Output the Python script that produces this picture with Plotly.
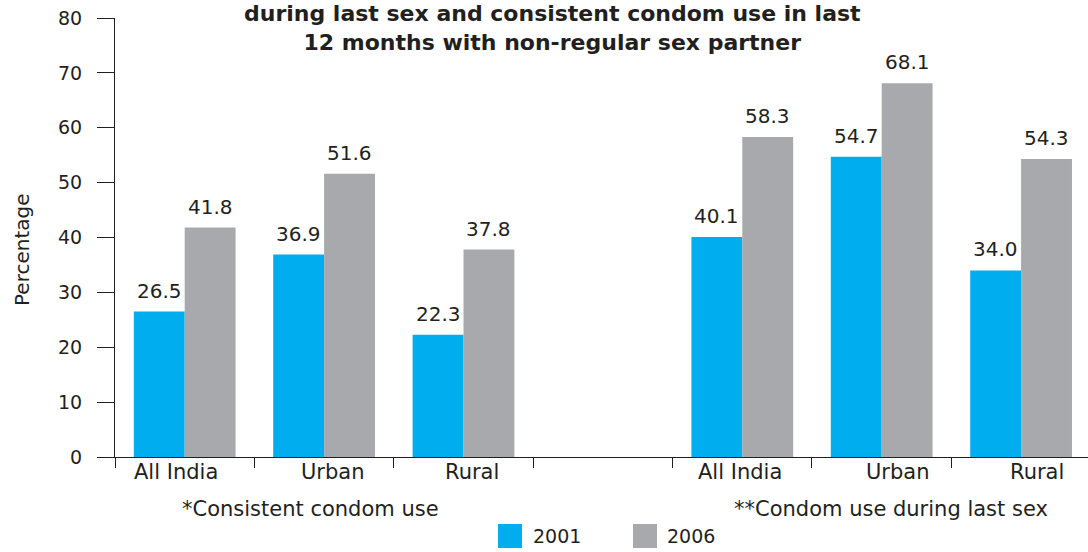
import plotly.graph_objects as go

# data
categories = ["All India", "Urban", "Rural"]
group_labels = ["*Consistent condom use", "**Condom use during last sex"]
years = ["2001", "2006"]
consistent_2001 = [26.5, 36.9, 22.3]
consistent_2006 = [41.8, 51.6, 37.8]
last_sex_2001 = [40.1, 54.7, 34.0]
last_sex_2006 = [58.3, 68.1, 54.3]
y_ticks = [0, 10, 20, 30, 40, 50, 60, 70, 80]
title_lines = ["during last sex and consistent condom use in last",
               "12 months with non-regular sex partner"]

W, H = 1088, 552
L, R, T, B = 115, 0, 18, 95
plot_w = W - L - R
plot_h = H - T - B

BLUE = "#00aeef"
GREY = "#a7a9ac"
INK = "#231f20"
FONT = "DejaVu Sans"


def px(x):
    # pixel column -> paper x
    return (x - L) / plot_w


def py(y):
    # pixel row -> paper y
    return (H - B - y) / plot_h


# first group sits in slots 0..2, slot 3 is left empty, second group in 4..6
pos1 = list(range(len(categories)))
pos2 = [p + len(categories) + 1 for p in pos1]
xpos = pos1 + pos2

series = {
    "2001": consistent_2001 + last_sex_2001,
    "2006": consistent_2006 + last_sex_2006,
}
colors = {"2001": BLUE, "2006": GREY}

fig = go.Figure()
for yr in years:
    fig.add_trace(go.Bar(x=xpos, y=series[yr], name=yr,
                         marker=dict(color=colors[yr], line=dict(width=0)),
                         showlegend=False, hoverinfo="x+y+name"))

bargap = 0.27
half = (1 - bargap) / 4  # offset of each bar centre inside its pair

annotations = []

# title (annotation: multi-line layout titles creep above the page)
annotations.append(dict(x=px(552), y=py(-1), xref="paper", yref="paper", text="<br>".join(title_lines),
                        showarrow=False, xanchor="center", yanchor="top",
                        font=dict(size=22, color=INK, weight="bold")))

# value labels above the bars
for i, yr in enumerate(years):
    shift = -half if i == 0 else half
    for x, v in zip(xpos, series[yr]):
        annotations.append(dict(x=x + shift, y=v, xref="x", yref="y", text=f"{v:.1f}",
                                showarrow=False, yanchor="middle", yshift=21,
                                font=dict(size=20, color=INK)))

# category labels (slightly off-centre in the original)
label_nudge = [-9, 9, 8, -2, 16, 16]
for x, name, dx in zip(xpos, categories + categories, label_nudge):
    annotations.append(dict(x=x, y=py(472), xref="x", yref="paper", text=name,
                            showarrow=False, yanchor="middle", xshift=dx,
                            font=dict(size=21, color=INK)))

# group captions
for text, cx in zip(group_labels, [310, 891]):
    annotations.append(dict(x=px(cx), y=py(509), xref="paper", yref="paper", text=text,
                            showarrow=False, xanchor="center", yanchor="middle",
                            font=dict(size=21, color=INK)))

# y title
annotations.append(dict(x=px(22), y=py(250), xref="paper", yref="paper", text="Percentage",
                        textangle=-90, showarrow=False, xanchor="center", yanchor="middle",
                        font=dict(size=20, color=INK)))

# hand-made legend (bigger swatches than plotly's own legend allows)
shapes = []
for yr, x0, tx in zip(years, [498, 633], [531, 665]):
    shapes.append(dict(type="rect", xref="paper", yref="paper",
                       x0=px(x0), x1=px(x0 + 24), y0=py(548), y1=py(524),
                       fillcolor=colors[yr], line=dict(width=0)))
    annotations.append(dict(x=px(tx), y=py(536), xref="paper", yref="paper", text=yr,
                            showarrow=False, xanchor="left", yanchor="middle",
                            font=dict(size=19, color=INK)))

fig.update_layout(
    width=W, height=H,
    margin=dict(l=L, r=R, t=T, b=B),
    paper_bgcolor="white", plot_bgcolor="white",
    font=dict(family=FONT, color=INK),
    barmode="group", bargap=bargap, bargroupgap=0,
    annotations=annotations,
    shapes=shapes,
)

fig.update_xaxes(range=[-0.5, 6.48], tickmode="array",
                 tickvals=[i - 0.5 for i in range(7)], showticklabels=False,
                 ticks="outside", ticklen=10, tickcolor=INK, tickwidth=1,
                 showline=True, linecolor=INK, linewidth=1,
                 showgrid=False, zeroline=False)
fig.update_yaxes(range=[0, 80], tickmode="array", tickvals=y_ticks,
                 ticks="outside", ticklen=17, tickcolor=INK, tickwidth=1,
                 ticklabelstandoff=11, tickfont=dict(size=19, color=INK),
                 showline=True, linecolor=INK, linewidth=1,
                 showgrid=False, zeroline=False)

# drop the page's default body margin so the figure sits at the window's corner
fig.write_html("out.html", config={"displayModeBar": False},
               post_script="document.body.style.margin='0';")
